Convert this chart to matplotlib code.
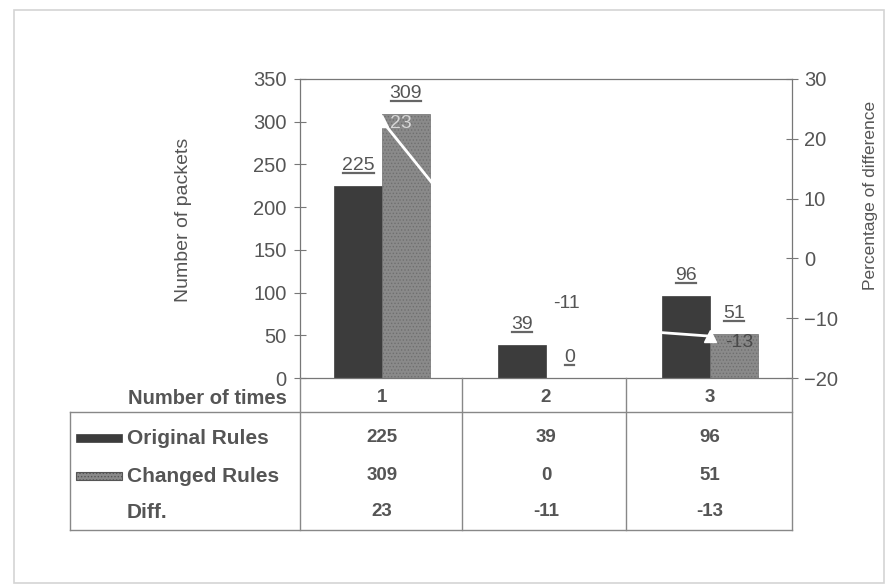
import numpy as np
import matplotlib
matplotlib.use("Agg")
import matplotlib.pyplot as plt
from matplotlib.patches import Rectangle
from matplotlib.lines import Line2D
import matplotlib.transforms as mtransforms

plt.rcParams['font.family'] = ['Liberation Sans', 'DejaVu Sans']
plt.rcParams['hatch.color'] = '#b8b8b8'
plt.rcParams['hatch.linewidth'] = 0.6

# data
categories = ['1', '2', '3']
original_rules = [225, 39, 96]
changed_rules = [309, 0, 51]
diff_pct = [23, -11, -13]
row_labels = ['Original Rules', 'Changed Rules', 'Diff.']
left_ticks = [0, 50, 100, 150, 200, 250, 300, 350]
right_ticks = [-20, -10, 0, 10, 20, 30]

W, H = 893, 586
TXT = '#555555'
DARK = '#3c3c3c'
MID = '#8a8a8a'


def fx(px):
    return px / W


def fy(py):
    return 1 - py / H


fig = plt.figure(figsize=(W / 100, H / 100), dpi=100)
fig.patch.set_facecolor('white')

# faint outer frame from the scan
fig.add_artist(Rectangle((fx(14), fy(583)), fx(884) - fx(14), fy(10) - fy(583),
                         transform=fig.transFigure, fill=False,
                         edgecolor='#d4d4d4', linewidth=1.2))

ax = fig.add_axes([fx(300), fy(378), fx(792) - fx(300), fy(79) - fy(378)])
x = np.arange(1, len(categories) + 1)
bw = 0.29

ax.bar(x - bw / 2, original_rules, width=bw, color=DARK, edgecolor=DARK,
       linewidth=0.5, zorder=2)
ax.bar(x + bw / 2, changed_rules, width=bw, color=MID, edgecolor='#6f6f6f',
       linewidth=0.5, hatch='.....', zorder=2)

ax.set_xlim(0.5, 3.5)
ax.set_ylim(0, 350)
ax.set_yticks(left_ticks)
ax.set_xticks([])
ax.tick_params(axis='y', direction='inout', length=9, width=0.8,
               colors='#777777', labelcolor=TXT, labelsize=14.5, pad=5)
for sp in ax.spines.values():
    sp.set_color('#777777')
    sp.set_linewidth(0.9)
ax.set_ylabel('Number of packets', fontsize=14, color=TXT)
ax.yaxis.set_label_coords(-0.22, 0.53)

ax2 = ax.twinx()
ax2.set_ylim(-20, 30)
ax2.set_yticks(right_ticks)
ax2.tick_params(axis='y', direction='inout', length=9, width=0.8,
                colors='#777777', labelcolor=TXT, labelsize=14.5, pad=4)
for sp in ax2.spines.values():
    sp.set_visible(False)
ax2.set_ylabel('Percentage of difference', fontsize=12.5, color=TXT)
ax2.yaxis.set_label_coords(1.145, 0.61)

ax2.plot(x, diff_pct, color='white', linewidth=2, marker='^',
         markersize=8, markerfacecolor='white', markeredgecolor='white',
         zorder=5)

# diff labels next to the line points
diff_offsets = [(19, -3), (21, 21), (29, -6)]
diff_colors = ['#d6d6d6', TXT, '#4a4a4a']
for xi, v, off, c in zip(x, diff_pct, diff_offsets, diff_colors):
    ax2.annotate(str(v), (xi, v), xytext=off, textcoords='offset pixels',
                 ha='center', va='center', fontsize=14, color=c, zorder=6)

# underlined value labels above the bars
value_texts = []
for xs, vals in ((x - bw / 2, original_rules), (x + bw / 2, changed_rules)):
    for xi, v in zip(xs, vals):
        t = ax.annotate(str(v), (xi, v), xytext=(0, 12),
                        textcoords='offset pixels', ha='center',
                        va='bottom', fontsize=14, color=TXT)
        value_texts.append(t)

fig.canvas.draw()
inv = fig.transFigure.inverted()
for t in value_texts:
    bb = t.get_window_extent()
    (x0, y0), (x1, _) = inv.transform([(bb.x0 + 1, bb.y0 + 1), (bb.x1 - 1, bb.y0)])
    fig.add_artist(Line2D([x0, x1], [y0, y0], transform=fig.transFigure,
                          color='#666666', linewidth=1.6))

# data table under the chart
line_kw = dict(transform=fig.transFigure, color='#888888', linewidth=1.0)
col_edges = [fx(300), fx(462), fx(626), fx(792)]
for cx in col_edges:
    fig.add_artist(Line2D([cx, cx], [fy(378), fy(530)], **line_kw))
fig.add_artist(Line2D([fx(70), fx(792)], [fy(412), fy(412)], **line_kw))
fig.add_artist(Line2D([fx(70), fx(792)], [fy(530), fy(530)], **line_kw))
fig.add_artist(Line2D([fx(70), fx(70)], [fy(412), fy(530)], **line_kw))

col_tr = mtransforms.blended_transform_factory(ax.transData, fig.transFigure)
fig.text(fx(287), fy(399), 'Number of times', ha='right', va='center',
         fontsize=14.5, fontweight='bold', color=TXT)
for xi, c in zip(x, categories):
    fig.text(xi, fy(397), c, transform=col_tr, ha='center', va='center',
             fontsize=13.5, fontweight='bold', color=TXT)

row_y = [438, 476, 512]
row_vals = [original_rules, changed_rules, diff_pct]
for ry, lab, vals in zip(row_y, row_labels, row_vals):
    fig.text(fx(127), fy(ry), lab, ha='left', va='center', fontsize=15,
             fontweight='bold', color=TXT)
    for xi, v in zip(x, vals):
        fig.text(xi, fy(ry), str(v), transform=col_tr, ha='center',
                 va='center', fontsize=13.5, fontweight='bold', color=TXT)

# legend keys in the table
fig.add_artist(Rectangle((fx(76), fy(442)), fx(122) - fx(76), fy(434) - fy(442),
                         transform=fig.transFigure, facecolor=DARK,
                         edgecolor=DARK, linewidth=0.5))
fig.add_artist(Rectangle((fx(76), fy(480)), fx(122) - fx(76), fy(472) - fy(480),
                         transform=fig.transFigure, facecolor=MID,
                         edgecolor='#555555', linewidth=0.8, hatch='.....'))

fig.savefig('out.png', dpi=100, facecolor='white')
